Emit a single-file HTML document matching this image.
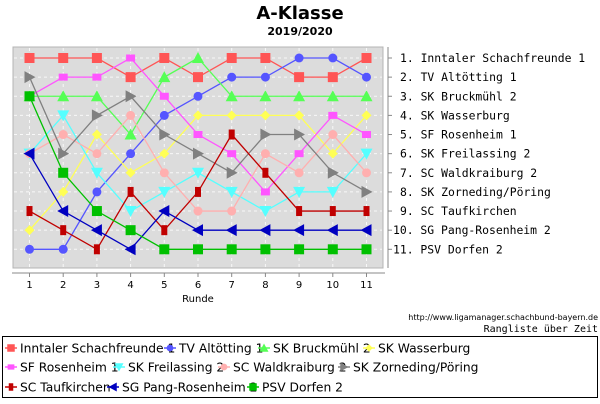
<!DOCTYPE html>
<html><head><meta charset="utf-8"><style>
body{margin:0;width:600px;height:400px;background:#fff;overflow:hidden;font-family:"DejaVu Sans","Liberation Sans",sans-serif}
</style></head><body>
<svg width="600" height="400" xmlns="http://www.w3.org/2000/svg">
<text x="300" y="19" text-anchor="middle" font-size="18" font-weight="bold" font-family="DejaVu Sans, sans-serif">A-Klasse</text>
<text x="300" y="35" text-anchor="middle" font-size="11" font-weight="bold" font-family="DejaVu Sans, sans-serif">2019/2020</text>
<rect x="13" y="47" width="370" height="221" fill="#dcdcdc" stroke="#b4b4b4"/>
<g id="grid"></g>
<line x1="12" y1="273" x2="385" y2="273" stroke="#888"/>
<line x1="388" y1="47" x2="388" y2="268" stroke="#888"/>
<g id="xt" font-size="10" text-anchor="middle"></g>
<text x="198" y="302" text-anchor="middle" font-size="10">Runde</text>
<g id="yt" font-size="11.4" font-family="DejaVu Sans Mono, Liberation Mono, monospace"></g>
<g id="series"></g>
<text x="598" y="320" text-anchor="end" font-size="8">http://www.ligamanager.schachbund-bayern.de</text>
<text x="598" y="332" text-anchor="end" font-size="10" font-family="DejaVu Sans Mono, monospace">Rangliste über Zeit</text>
<rect x="2.5" y="336.5" width="595" height="61" fill="#fff" stroke="#000"/>
<g id="legend" font-size="12.3"></g>
</svg>
<script>
const rounds=[1,2,3,4,5,6,7,8,9,10,11];
const names=["Inntaler Schachfreunde 1","TV Altötting 1","SK Bruckmühl 2","SK Wasserburg","SF Rosenheim 1","SK Freilassing 2","SC Waldkraiburg 2","SK Zorneding/Pöring","SC Taufkirchen","SG Pang-Rosenheim 2","PSV Dorfen 2"];
const rankInntaler=[1,1,1,2,1,2,1,1,2,2,1];
const rankAltoetting=[11,11,8,6,4,3,2,2,1,1,2];
const rankBruckmuehl=[3,3,3,5,2,1,3,3,3,3,3];
const rankWasserburg=[10,8,5,7,6,4,4,4,4,6,4];
const rankRosenheim=[3,2,2,1,3,5,6,8,6,4,5];
const rankFreilassing=[6,4,7,9,8,7,8,9,8,8,6];
const rankWaldkraiburg=[6,5,6,4,7,9,9,6,7,5,7];
const rankZorneding=[2,6,4,3,5,6,7,5,5,7,8];
const rankTaufkirchen=[9,10,11,8,10,8,5,7,9,9,9];
const rankPang=[6,9,10,11,9,10,10,10,10,10,10];
const rankDorfen=[3,7,9,10,11,11,11,11,11,11,11];
const series=[rankInntaler,rankAltoetting,rankBruckmuehl,rankWasserburg,rankRosenheim,rankFreilassing,rankWaldkraiburg,rankZorneding,rankTaufkirchen,rankPang,rankDorfen];
const colors=["#ff5555","#5555ff","#55ff55","#ffff55","#ff55ff","#55ffff","#ffafaf","#808080","#c00000","#0000c0","#00c000"];
const shapes=["sq","ci","tu","di","sqs","td","ci","tr","rt","tl","sq"];
const NS="http://www.w3.org/2000/svg";
const X=r=>29.5+(r-1)*33.7, Y=k=>58+(k-1)*19.13;
function mk(t,a,p){const e=document.createElementNS(NS,t);for(const k in a)e.setAttribute(k,a[k]);p.appendChild(e);return e;}
function marker(s,x,y,c,p,f){
 f=f||1;let e;
 if(s==="sq")e=mk("rect",{x:x-5*f,y:y-5*f,width:10*f,height:10*f,fill:c},p);
 else if(s==="sqs")e=mk("rect",{x:x-4.5*f,y:y-3.5*f,width:9*f,height:7*f,fill:c},p);
 else if(s==="rt")e=mk("rect",{x:x-3*f,y:y-5*f,width:6*f,height:10*f,fill:c},p);
 else if(s==="ci")e=mk("circle",{cx:x,cy:y,r:4.5*f,fill:c},p);
 else{let pts;
  if(s==="tu")pts=[[0,-6],[6,5],[-6,5]];
  if(s==="td")pts=[[0,6],[6,-5],[-6,-5]];
  if(s==="tr")pts=[[6,0],[-5,-6],[-5,6]];
  if(s==="tl")pts=[[-6,0],[5,-6],[5,6]];
  if(s==="di")pts=[[0,-5],[5,0],[0,5],[-5,0]];
  e=mk("polygon",{points:pts.map(q=>(x+q[0]*f)+","+(y+q[1]*f)).join(" "),fill:c},p);}
 return e;
}
const grid=document.getElementById("grid");
rounds.forEach(r=>{const l=mk("line",{x1:X(r),y1:48,x2:X(r),y2:267,stroke:"#fff","stroke-dasharray":"3,3","stroke-opacity":"0.8"},grid);

});
names.forEach((n,i)=>{const l=mk("line",{x1:14,y1:Y(i+1),x2:382,y2:Y(i+1),stroke:"#fff","stroke-dasharray":"3,3","stroke-opacity":"0.8"},grid);

});
const xt=document.getElementById("xt");
rounds.forEach(r=>{mk("line",{x1:X(r),y1:273,x2:X(r),y2:277,stroke:"#888"},xt);
const t=mk("text",{x:X(r),y:288},xt);t.textContent=r;

});
const yt=document.getElementById("yt");
names.forEach((n,i)=>{mk("line",{x1:388,y1:Y(i+1),x2:392,y2:Y(i+1),stroke:"#888"},yt);
const t=mk("text",{x:(i<9?400:393),y:Y(i+1)+4},yt);t.textContent=(i+1)+". "+n;

});
const sg=document.getElementById("series");
series.forEach((d,i)=>{const g=mk("g",{},sg);


mk("polyline",{points:d.map((k,j)=>X(rounds[j])+","+Y(k)).join(" "),fill:"none",stroke:colors[i],"stroke-width":1.3},g);
d.forEach((k,j)=>{const m=marker(shapes[i],X(rounds[j]),Y(k),colors[i],g);

});});
const lg=document.getElementById("legend");
const pos=[[5,348],[164,348],[258,348],[363,348],[5,367],[113,367],[218,367],[338,367],[5,387],[107,387],[247,387]];
names.forEach((n,i)=>{const [x,y]=pos[i];const g=mk("g",{},lg);


mk("line",{x1:x,y1:y,x2:x+12,y2:y,stroke:colors[i],"stroke-width":1.5},g);
marker(shapes[i],x+6,y,colors[i],g,0.75);
const t=mk("text",{x:x+15,y:y+4.5},g);t.textContent=n;});
</script>
</body></html>
